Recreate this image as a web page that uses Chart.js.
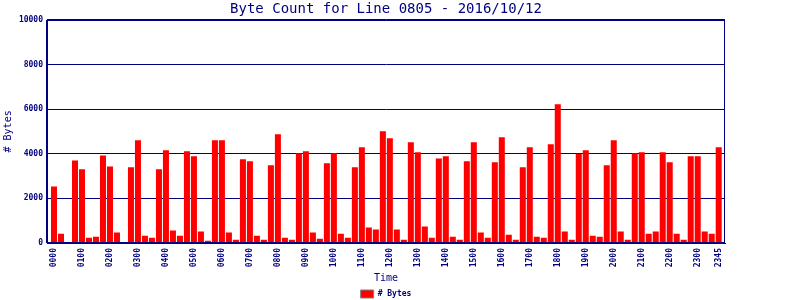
<!DOCTYPE html>
<html>
<head>
<meta charset="utf-8">
<title>Byte Count for Line 0805</title>
<script src="https://cdn.jsdelivr.net/npm/chart.js@4.4.1/dist/chart.umd.min.js"></script>
<style>
  html, body { margin: 0; padding: 0; background: #fff; }
  #wrap { width: 800px; height: 300px; }
</style>
</head>
<body>
<div id="wrap"><canvas id="chart" width="800" height="300"></canvas></div>
<script>
// byte count per 15 minute slot
const timeLabels = [
  '0000','0015','0030','0045','0100','0115','0130','0145',
  '0200','0215','0230','0245','0300','0315','0330','0345',
  '0400','0415','0430','0445','0500','0515','0530','0545',
  '0600','0615','0630','0645','0700','0715','0730','0745',
  '0800','0815','0830','0845','0900','0915','0930','0945',
  '1000','1015','1030','1045','1100','1115','1130','1145',
  '1200','1215','1230','1245','1300','1315','1330','1345',
  '1400','1415','1430','1445','1500','1515','1530','1545',
  '1600','1615','1630','1645','1700','1715','1730','1745',
  '1800','1815','1830','1845','1900','1915','1930','1945',
  '2000','2015','2030','2045','2100','2115','2130','2145',
  '2200','2215','2230','2245','2300','2315','2330','2345'
];
const shownLabels = [
  '0000','0100','0200','0300','0400','0500','0600','0700','0800','0900','1000','1100',
  '1200','1300','1400','1500','1600','1700','1800','1900','2000','2100','2200','2300','2345'
];
const byteCounts = [
  2530, 420, 0, 3700, 3300, 240, 285, 3925,
  3430, 465, 0, 3390, 4600, 330, 240, 3300,
  4150, 555, 330, 4110, 3885, 510, 105, 4600,
  4600, 465, 150, 3750, 3660, 330, 150, 3480,
  4870, 240, 150, 4020, 4110, 465, 195, 3570,
  4020, 420, 240, 3390, 4290, 690, 600, 5010,
  4690, 600, 150, 4510, 4065, 735, 240, 3790,
  3885, 285, 150, 3660, 4510, 465, 240, 3615,
  4740, 375, 150, 3390, 4290, 285, 240, 4420,
  6220, 510, 150, 4000, 4150, 330, 285, 3480,
  4600, 510, 150, 4020, 4065, 420, 510, 4065,
  3615, 420, 150, 3885, 3885, 510, 420, 4290
];
const yTicks = [0, 2000, 4000, 6000, 8000, 10000];

const NAVY = '#000080';
const MONO = '"DejaVu Sans Mono", "Liberation Mono", monospace';

// box round the plot (top and right edge too)
const frame = {
  id: 'frame',
  afterDatasetsDraw(chart) {
    const { ctx, chartArea: a } = chart;
    ctx.save();
    ctx.strokeStyle = NAVY;
    ctx.lineWidth = 1;
    ctx.strokeRect(Math.round(a.left) - 0.5, Math.round(a.top) + 0.5,
      Math.round(a.right - a.left), Math.round(a.bottom - a.top) - 1);
    ctx.restore();
  }
};

new Chart(document.getElementById('chart'), {
  type: 'bar',
  data: {
    datasets: [{
      label: '# Bytes',
      data: byteCounts.map((v, i) => ({ x: i, y: v })),
      backgroundColor: '#ff0000',
      borderWidth: 0,
      barPercentage: 0.86,
      categoryPercentage: 1.0
    }]
  },
  options: {
    responsive: false,
    animation: false,
    layout: { padding: { left: 0, right: 75, top: 0, bottom: -8 } },
    scales: {
      x: {
        type: 'linear',
        offset: false,
        min: -1,
        max: 95.9,
        afterBuildTicks: (s) => { s.ticks = shownLabels.map(l => ({ value: timeLabels.indexOf(l) })); },
        grid: { display: false, drawTicks: false },
        border: { color: NAVY, width: 1 },
        ticks: {
          autoSkip: false,
          minRotation: 90,
          maxRotation: 90,
          padding: 5,
          color: NAVY,
          font: { family: MONO, size: 8, weight: 'bold' },
          callback: (v) => timeLabels[v]
        },
        title: {
          display: true,
          text: 'Time',
          color: NAVY,
          font: { family: MONO, size: 10 },
          padding: { top: 3, bottom: 4 }
        },
        afterFit: (s) => { s.height = 45; }
      },
      y: {
        min: 0,
        max: 10000,
        afterBuildTicks: (s) => { s.ticks = yTicks.map(v => ({ value: v })); },
        grid: { color: NAVY, lineWidth: 1, drawTicks: false },
        border: { color: NAVY, width: 1 },
        ticks: {
          padding: 4,
          color: NAVY,
          font: { family: MONO, size: 8, weight: 'bold' },
          callback: (v) => String(v)
        },
        title: {
          display: true,
          text: '# Bytes',
          color: NAVY,
          font: { family: MONO, size: 10 },
          padding: { top: 2, bottom: 0 }
        },
        afterFit: (s) => { s.width = 47; }
      }
    },
    plugins: {
      title: {
        display: true,
        fullSize: false,
        text: 'Byte Count for Line 0805 - 2016/10/12',
        color: NAVY,
        font: { family: MONO, size: 14, weight: 'normal' },
        padding: { top: 1, bottom: 2 }
      },
      legend: {
        position: 'bottom',
        fullSize: false,
        labels: {
          color: NAVY,
          boxWidth: 13,
          boxHeight: 8,
          padding: 2,
          font: { family: MONO, size: 8, weight: 'bold' },
          generateLabels: () => [{
            text: '# Bytes',
            fillStyle: '#ff0000',
            strokeStyle: '#7f7f7f',
            lineWidth: 1,
            fontColor: NAVY,
            datasetIndex: 0
          }]
        }
      },
      tooltip: { enabled: false }
    }
  },
  plugins: [frame]
});
</script>
</body>
</html>
